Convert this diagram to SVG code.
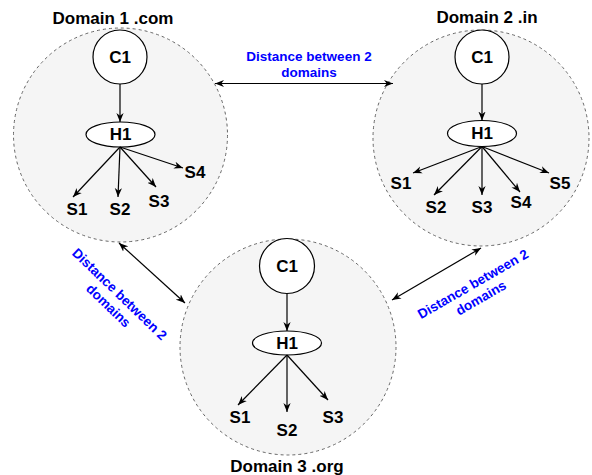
<svg xmlns="http://www.w3.org/2000/svg" width="592" height="475" viewBox="0 0 592 475">
  <defs>
    <marker id="arrow" viewBox="0 0 10 10" refX="10" refY="5" markerWidth="9" markerHeight="9" markerUnits="userSpaceOnUse" orient="auto-start-reverse">
      <path d="M0,1 L10,5 L0,9 L3,5 z" fill="#000"/>
    </marker>
  </defs>
  <style>
    .domain { fill: #f5f5f5; stroke: #666; stroke-width: 1; stroke-dasharray: 3 3; }
    .node { fill: #fff; stroke: #000; stroke-width: 1.2; }
    .edge { stroke: #000; stroke-width: 1.2; fill: none; marker-end: url(#arrow); }
    .link { stroke: #000; stroke-width: 1.2; fill: none; marker-start: url(#arrow); marker-end: url(#arrow); }
    .lbl { font-family: "Liberation Sans", Arial, sans-serif; font-weight: bold; font-size: 17px; fill: #000; text-anchor: middle; dominant-baseline: central; }
    .dist { font-family: "Liberation Sans", Arial, sans-serif; font-weight: bold; font-size: 13.5px; fill: #0000ff; text-anchor: middle; dominant-baseline: central; }
  </style>

  <!-- Domain regions -->
  <g id="domain1">
    <circle class="domain" cx="120.5" cy="135" r="107"/>
    <text class="lbl" x="113" y="18">Domain 1 .com</text>
  </g>
  <g id="domain2">
    <circle class="domain" cx="481" cy="138" r="108"/>
    <text class="lbl" x="487" y="17">Domain 2 .in</text>
  </g>
  <g id="domain3">
    <circle class="domain" cx="288" cy="347" r="108"/>
    <text class="lbl" x="287" y="466">Domain 3 .org</text>
  </g>

  <!-- Domain 1 nodes -->
  <g id="d1-c1"><circle class="node" cx="120" cy="57" r="27"/><text class="lbl" x="120" y="57">C1</text></g>
  <g id="d1-h1"><ellipse class="node" cx="120.5" cy="134.5" rx="34.5" ry="12.5"/><text class="lbl" x="120.5" y="134.5">H1</text></g>
  <g id="d1-s1"><text class="lbl" x="77" y="209">S1</text></g>
  <g id="d1-s2"><text class="lbl" x="120" y="209">S2</text></g>
  <g id="d1-s3"><text class="lbl" x="159" y="201">S3</text></g>
  <g id="d1-s4"><text class="lbl" x="195" y="172">S4</text></g>

  <!-- Domain 2 nodes -->
  <g id="d2-c1"><circle class="node" cx="482" cy="57" r="27"/><text class="lbl" x="482" y="57">C1</text></g>
  <g id="d2-h1"><ellipse class="node" cx="482" cy="133.5" rx="34.5" ry="13"/><text class="lbl" x="482" y="133.5">H1</text></g>
  <g id="d2-s1"><text class="lbl" x="401" y="183">S1</text></g>
  <g id="d2-s2"><text class="lbl" x="436" y="207">S2</text></g>
  <g id="d2-s3"><text class="lbl" x="482" y="207">S3</text></g>
  <g id="d2-s4"><text class="lbl" x="521" y="202">S4</text></g>
  <g id="d2-s5"><text class="lbl" x="560" y="183">S5</text></g>

  <!-- Domain 3 nodes -->
  <g id="d3-c1"><circle class="node" cx="287" cy="266" r="27.5"/><text class="lbl" x="287" y="266">C1</text></g>
  <g id="d3-h1"><ellipse class="node" cx="287" cy="343" rx="34.5" ry="12"/><text class="lbl" x="287" y="343">H1</text></g>
  <g id="d3-s1"><text class="lbl" x="240" y="417">S1</text></g>
  <g id="d3-s2"><text class="lbl" x="287" y="430">S2</text></g>
  <g id="d3-s3"><text class="lbl" x="333" y="417">S3</text></g>

  <!-- Connectors -->
  <g id="connectors">
    <!-- domain 1 -->
    <line class="edge" x1="120" y1="84" x2="120" y2="122"/>
    <line class="edge" x1="120" y1="147" x2="73" y2="197"/>
    <line class="edge" x1="120" y1="147" x2="118" y2="197"/>
    <line class="edge" x1="120" y1="147" x2="156" y2="187"/>
    <line class="edge" x1="120" y1="147" x2="183" y2="168"/>
    <!-- domain 2 -->
    <line class="edge" x1="482" y1="84" x2="482" y2="120.5"/>
    <line class="edge" x1="482" y1="146.5" x2="413" y2="173"/>
    <line class="edge" x1="482" y1="146.5" x2="434" y2="195"/>
    <line class="edge" x1="482" y1="146.5" x2="482" y2="195"/>
    <line class="edge" x1="482" y1="146.5" x2="520" y2="192"/>
    <line class="edge" x1="482" y1="146.5" x2="549" y2="173"/>
    <!-- domain 3 -->
    <line class="edge" x1="287" y1="293.5" x2="287" y2="331"/>
    <line class="edge" x1="287" y1="355" x2="238" y2="405"/>
    <line class="edge" x1="287" y1="355" x2="287" y2="412"/>
    <line class="edge" x1="287" y1="355" x2="328" y2="400"/>
    <!-- between domains -->
    <line class="link" x1="215" y1="83.5" x2="393" y2="83.5"/>
    <line class="link" x1="119" y1="243" x2="185" y2="303"/>
    <line class="link" x1="481" y1="248" x2="392" y2="300"/>
    <text class="dist" x="309" y="56">Distance between 2</text>
    <text class="dist" x="309" y="72">domains</text>
    <g transform="rotate(44 114 300)">
      <text class="dist" x="114" y="292">Distance between 2</text>
      <text class="dist" x="114" y="308">domains</text>
    </g>
    <g transform="rotate(-30 477 291)">
      <text class="dist" x="477" y="283">Distance between 2</text>
      <text class="dist" x="477" y="299">domains</text>
    </g>
  </g>
</svg>
